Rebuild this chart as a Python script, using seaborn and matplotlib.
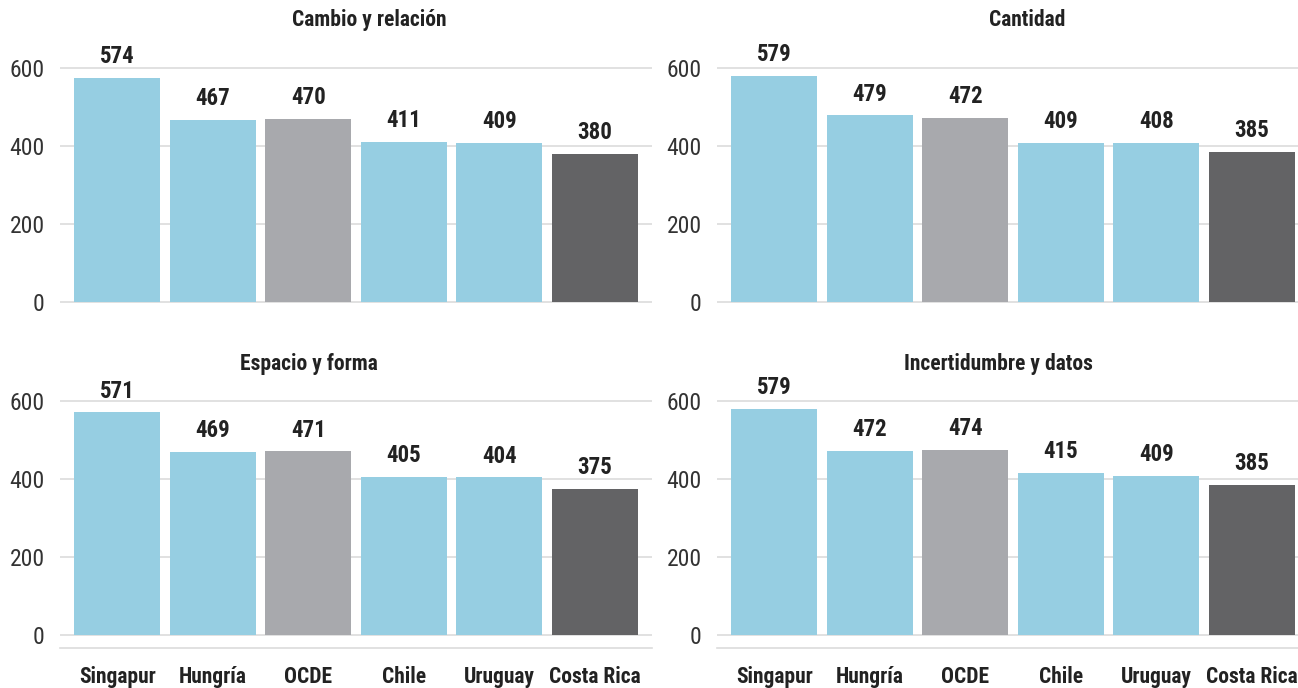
import matplotlib
matplotlib.use("Agg")
import matplotlib.pyplot as plt
from matplotlib import font_manager
import seaborn as sns
import pandas as pd

# ---- data ----
paises = ["Singapur", "Hungría", "OCDE", "Chile", "Uruguay", "Costa Rica"]
titulos = ["Cambio y relación", "Cantidad", "Espacio y forma", "Incertidumbre y datos"]
cambio = [574, 467, 470, 411, 409, 380]
cantidad = [579, 479, 472, 409, 408, 385]
espacio = [571, 469, 471, 405, 404, 375]
incert = [579, 472, 474, 415, 409, 385]
yticks = [0, 200, 400, 600]

BLUE = "#96CEE2"
GRAY = "#A8A9AD"
DARK = "#636365"
colores = {"Singapur": BLUE, "Hungría": BLUE, "OCDE": GRAY, "Chile": BLUE,
           "Uruguay": BLUE, "Costa Rica": DARK}

sns.set_theme(style="white")
avail = {f.name for f in font_manager.fontManager.ttflist}
fam = None
for cand in ["Roboto Condensed", "Liberation Sans Narrow", "Roboto", "Open Sans"]:
    if cand in avail:
        fam = cand
        break
plt.rcParams["font.family"] = [fam, "DejaVu Sans"] if fam else ["DejaVu Sans"]

TXT = "#222222"
GRID = "#DCDCDC"

W, H = 1298, 688
fig = plt.figure(figsize=(W / 100, H / 100), dpi=100)

def ax_rect(left_px, bottom_px, width_px=592, height_px=266.5):
    return [left_px / W, 1 - bottom_px / H, width_px / W, height_px / H]

rects = [ax_rect(60, 315), ax_rect(717, 315), ax_rect(60, 648), ax_rect(717, 648)]
series = [cambio, cantidad, espacio, incert]
title_pos = [(369, 20), (1027, 20), (309, 364), (998, 364)]

for i, (rect, vals) in enumerate(zip(rects, series)):
    ax = fig.add_axes(rect)
    df = pd.DataFrame({"pais": paises, "valor": vals})
    sns.barplot(data=df, x="pais", y="valor", hue="pais", order=paises,
                hue_order=paises, palette=colores, width=0.9, saturation=1,
                legend=False, linewidth=0, edgecolor="none", ax=ax)
    ax.set_xlim(-0.6, 5.6)
    ax.set_ylim(-33, 650)
    ax.set_yticks(yticks)
    ax.set_yticklabels([str(v) for v in yticks])
    ax.set_xlabel("")
    ax.set_ylabel("")
    ax.set_axisbelow(True)
    ax.yaxis.grid(True, color=GRID, linewidth=1.2)
    ax.xaxis.grid(False)
    for s in ["top", "right", "left"]:
        ax.spines[s].set_visible(False)
    ax.tick_params(axis="y", length=0, pad=11, labelsize=17, labelcolor="#333333")
    bottom_row = i >= 2
    if bottom_row:
        ax.spines["bottom"].set_visible(True)
        ax.spines["bottom"].set_color(GRID)
        ax.spines["bottom"].set_linewidth(1.2)
        ax.tick_params(axis="x", length=5, width=1, color=GRID, pad=8,
                       labelsize=15.5)
        for lbl in ax.get_xticklabels():
            lbl.set_fontweight("bold")
            lbl.set_color(TXT)
    else:
        ax.spines["bottom"].set_visible(False)
        ax.tick_params(axis="x", length=0, labelbottom=False)
    for cont in ax.containers:
        ax.bar_label(cont, fmt="%d", padding=7, fontsize=16.5, fontweight="bold",
                     color=TXT, clip_on=False)
    tx, ty = title_pos[i]
    fig.text(tx / W, 1 - ty / H, titulos[i], ha="center", va="center",
             fontsize=15.5, fontweight="bold", color=TXT)

fig.savefig("out.png", dpi=100)
